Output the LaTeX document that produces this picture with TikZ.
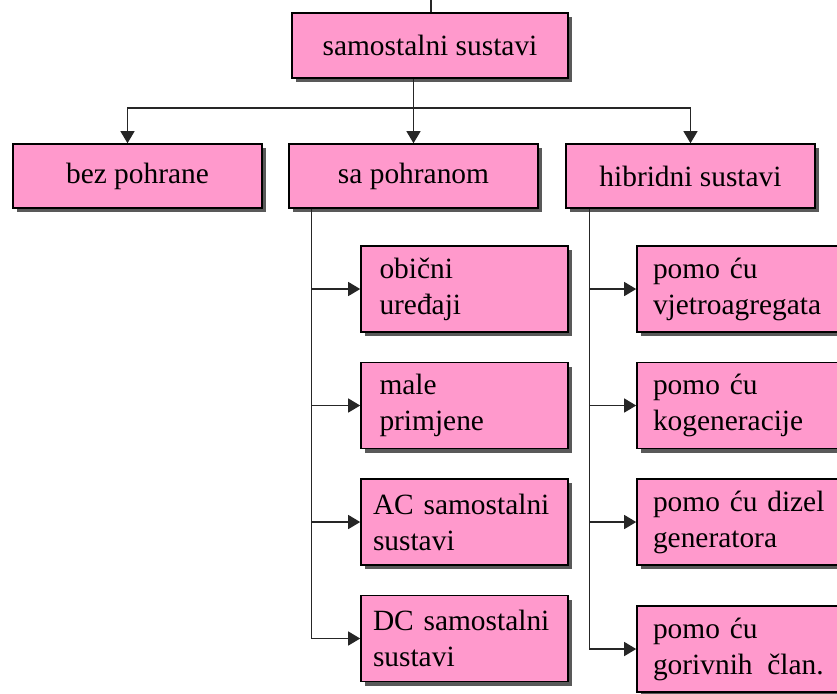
\documentclass[tikz,border=0pt]{standalone}
\usepackage{fontspec}
\setmainfont{Liberation Serif}
\usepackage{tikz}
\usetikzlibrary{arrows.meta,shadows}
\usepackage{xcolor}
\definecolor{boxpink}{HTML}{FF99CC}

\tikzset{
  box/.style={draw=black, line width=0.8pt, fill=boxpink,
    drop shadow={shadow xshift=2pt, shadow yshift=-2pt, fill=black!65, opacity=1},
    minimum width=124.5pt, minimum height=32pt, inner sep=0pt,
    font=\fontsize{14.7}{18}\selectfont},
  subbox/.style={box, minimum width=103.5pt, minimum height=43pt, align=left},
  link/.style={line width=0.65pt, black!85},
  tip/.style={-{Triangle[length=6pt,width=7pt]}}
}

\begin{document}
\begin{tikzpicture}[x=0.5pt, y=-0.5pt]
    \useasboundingbox (0,0) rectangle (837,693);

    % top and second row
    \node[box, minimum width=138pt, minimum height=32.5pt] (root) at (430,45.5) {samostalni sustavi};
    \node[box] (bez) at (137.5,176) {bez pohrane};
    \node[box] (sa)  at (413.5,176) {sa pohranom};
    \node[box] (hib) at (690.5,176) {hibridni sustavi};

    % storage branch
    \foreach \n/\y/\w/\t in {
        1/289/85pt/{obični\\uređaji},
        2/405.5/85pt/{male\\primjene},
        3/522/91.5pt/{AC samostalni\\sustavi},
        4/638.5/91.5pt/{DC samostalni\\sustavi}
    } {
        \node[subbox, text width=\w] (l\n) at (464.5,\y) {\t};
    }

    % hybrid branch
    \foreach \n/\y/\t in {
        1/289/{pomo ću\\vjetroagregata},
        2/405.5/{pomo ću\\kogeneracije},
        3/522/{pomo ću dizel\\generatora},
        4/649/{pomo ću\\gorivnih\, član.}
    } {
        \node[subbox, text width=87.5pt] (r\n) at (740.5,\y) {\t};
    }

    % connectors
    \coordinate (top) at (431,0);
    \coordinate (bus) at (0,108);
    \draw[link] (top) -- (top |- root.north);
    \draw[link, tip] (sa.north |- root.south) -- (sa.north);
    \draw[link, tip] (sa.north |- bus) -| ([xshift=-5pt]bez.north);
    \draw[link, tip] (sa.north |- bus) -| (hib.north);

    \coordinate (ltrunk) at ([xshift=11.5pt]sa.south west);
    \coordinate (rtrunk) at ([xshift=12pt]hib.south west);
    \draw[link, tip] (ltrunk) |- (l4.west);
    \draw[link, tip] (rtrunk) |- (r4.west);
    \foreach \n in {1,2,3} {
        \draw[link, tip] (ltrunk |- l\n.west) -- (l\n.west);
        \draw[link, tip] (rtrunk |- r\n.west) -- (r\n.west);
    }
\end{tikzpicture}
\end{document}
